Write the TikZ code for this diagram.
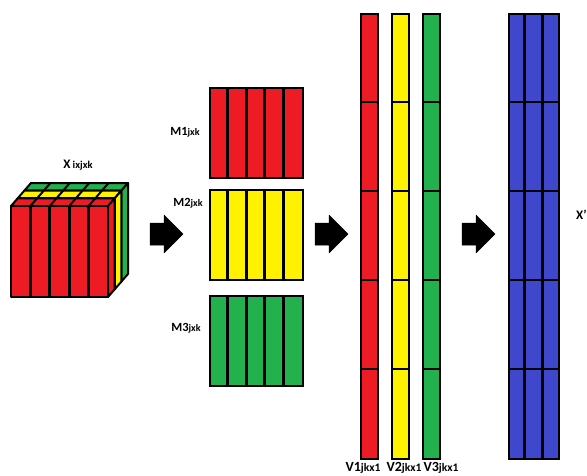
\documentclass[tikz,border=0pt]{standalone}
\usepackage{fontspec}
\setmainfont{Carlito}
\usetikzlibrary{calc}
\definecolor{cred}{HTML}{ED1C24}
\definecolor{cyellow}{HTML}{FFF200}
\definecolor{cgreen}{HTML}{22B14C}
\definecolor{cblue}{HTML}{3F48CC}
\tikzset{
  edge/.style={draw=black, line width=2pt, line join=round},
  sep/.style={draw=black, line width=3pt},
  thin sep/.style={draw=black, line width=2pt},
  lbl/.style={font=\bfseries, inner sep=0pt},
  blockarrow/.style={fill=black, draw=black, line width=0.5pt, line join=round}
}
\newcommand{\lab}[2]{{\fontsize{12.5}{13}\selectfont #1}{\fontsize{10}{11}\selectfont #2}}
\newcommand{\vlab}[2]{{\fontsize{14}{15}\selectfont #1}{\fontsize{11.5}{12}\selectfont #2}}
\begin{document}
\begin{tikzpicture}[x=1pt,y=-1pt]
\useasboundingbox (0,0) rectangle (587,475);
% ---------- cube ----------
\foreach \k/\col in {2/cgreen,1/cyellow,0/cred}{
  \pgfmathsetmacro\ox{\k*20/3}
  \pgfmathsetmacro\oy{-\k*23/3}
  \pgfmathsetmacro\px{(\k+1)*20/3}
  \pgfmathsetmacro\py{-(\k+1)*23/3}
  \draw[edge, fill=\col] (11+\ox,206+\oy) -- (108+\ox,206+\oy) -- (108+\px,206+\py) -- (11+\px,206+\py) -- cycle;
  \foreach \i in {1,...,4}{
    \draw[thin sep] (11+\i*19.4+\ox,206+\oy) -- (11+\i*19.4+\px,206+\py);
  }
  \draw[edge, fill=\col] (108+\ox,206+\oy) -- (108+\px,206+\py) -- (108+\px,297+\py) -- (108+\ox,297+\oy) -- cycle;
  \draw[edge, fill=\col] (11+\ox,206+\oy) rectangle (108+\ox,297+\oy);
  \foreach \i in {1,...,4}{
    \draw[sep] (11+\i*19.4+\ox,206+\oy) -- (11+\i*19.4+\ox,297+\oy);
  }
}
\node[lbl] (xlab) at (78,165) {{\fontsize{13}{14}\selectfont X} {\fontsize{10.5}{11}\selectfont ixjxk}};
% ---------- arrows ----------
\foreach \ax/\name in {150/a1,315/a2,462/a3}{
  \draw[blockarrow] (\ax,223) -- (\ax+14,223) -- (\ax+14,215) -- (\ax+33,234) -- (\ax+14,253) -- (\ax+14,245) -- (\ax,245) -- cycle;
  \coordinate (\name) at (\ax+16,234);
}
% ---------- matrices ----------
\foreach \y/\col/\nm in {87/cred/m1, 189/cyellow/m2, 295/cgreen/m3}{
  \node[draw=black, line width=2pt, fill=\col, minimum width=93pt, minimum height=90pt, inner sep=0pt, anchor=north west] (\nm) at (209,\y) {};
  \foreach \i in {1,...,4}{
    \draw[sep] ($(\nm.north west)+(\i*18.6,0)$) -- ($(\nm.south west)+(\i*18.6,0)$);
  }
}
\node[lbl] (m1l) at (185,132) {\lab{M1}{jxk}};
\node[lbl] (m2l) at (188,203) {\lab{M2}{jxk}};
\node[lbl] (m3l) at (186,328) {\lab{M3}{jxk}};
% ---------- vectors ----------
\foreach \x/\col/\nm in {360/cred/v1, 391/cyellow/v2, 422/cgreen/v3}{
  \node[draw=black, line width=2pt, fill=\col, minimum width=17pt, minimum height=445pt, inner sep=0pt, anchor=north west] (\nm) at (\x,13) {};
  \foreach \i in {1,...,4}{
    \draw[thin sep] ($(\nm.north west)+(0,\i*89)$) -- ($(\nm.north east)+(0,\i*89)$);
  }
}
\node[lbl] (v1l) at (363,468) {\vlab{V1}{jkx1}};
\node[lbl] (v2l) at (404,468) {\vlab{V2}{jkx1}};
\node[lbl] (v3l) at (441,468) {\vlab{V3}{jkx1}};
% ---------- X' ----------
\node[draw=black, line width=2pt, fill=cblue, minimum width=50pt, minimum height=445pt, inner sep=0pt, anchor=north west] (xp) at (508,13) {};
\foreach \i in {1,...,4}{
  \draw[thin sep] ($(xp.north west)+(0,\i*89)$) -- ($(xp.north east)+(0,\i*89)$);
}
\draw[sep] ($(xp.north west)+(16,0)$) -- ($(xp.south west)+(16,0)$);
\draw[sep] ($(xp.north west)+(34,0)$) -- ($(xp.south west)+(34,0)$);
\node[lbl, anchor=west] (xpl) at (576,215) {\fontsize{13}{14}\selectfont X'};
\end{tikzpicture}
\end{document}
